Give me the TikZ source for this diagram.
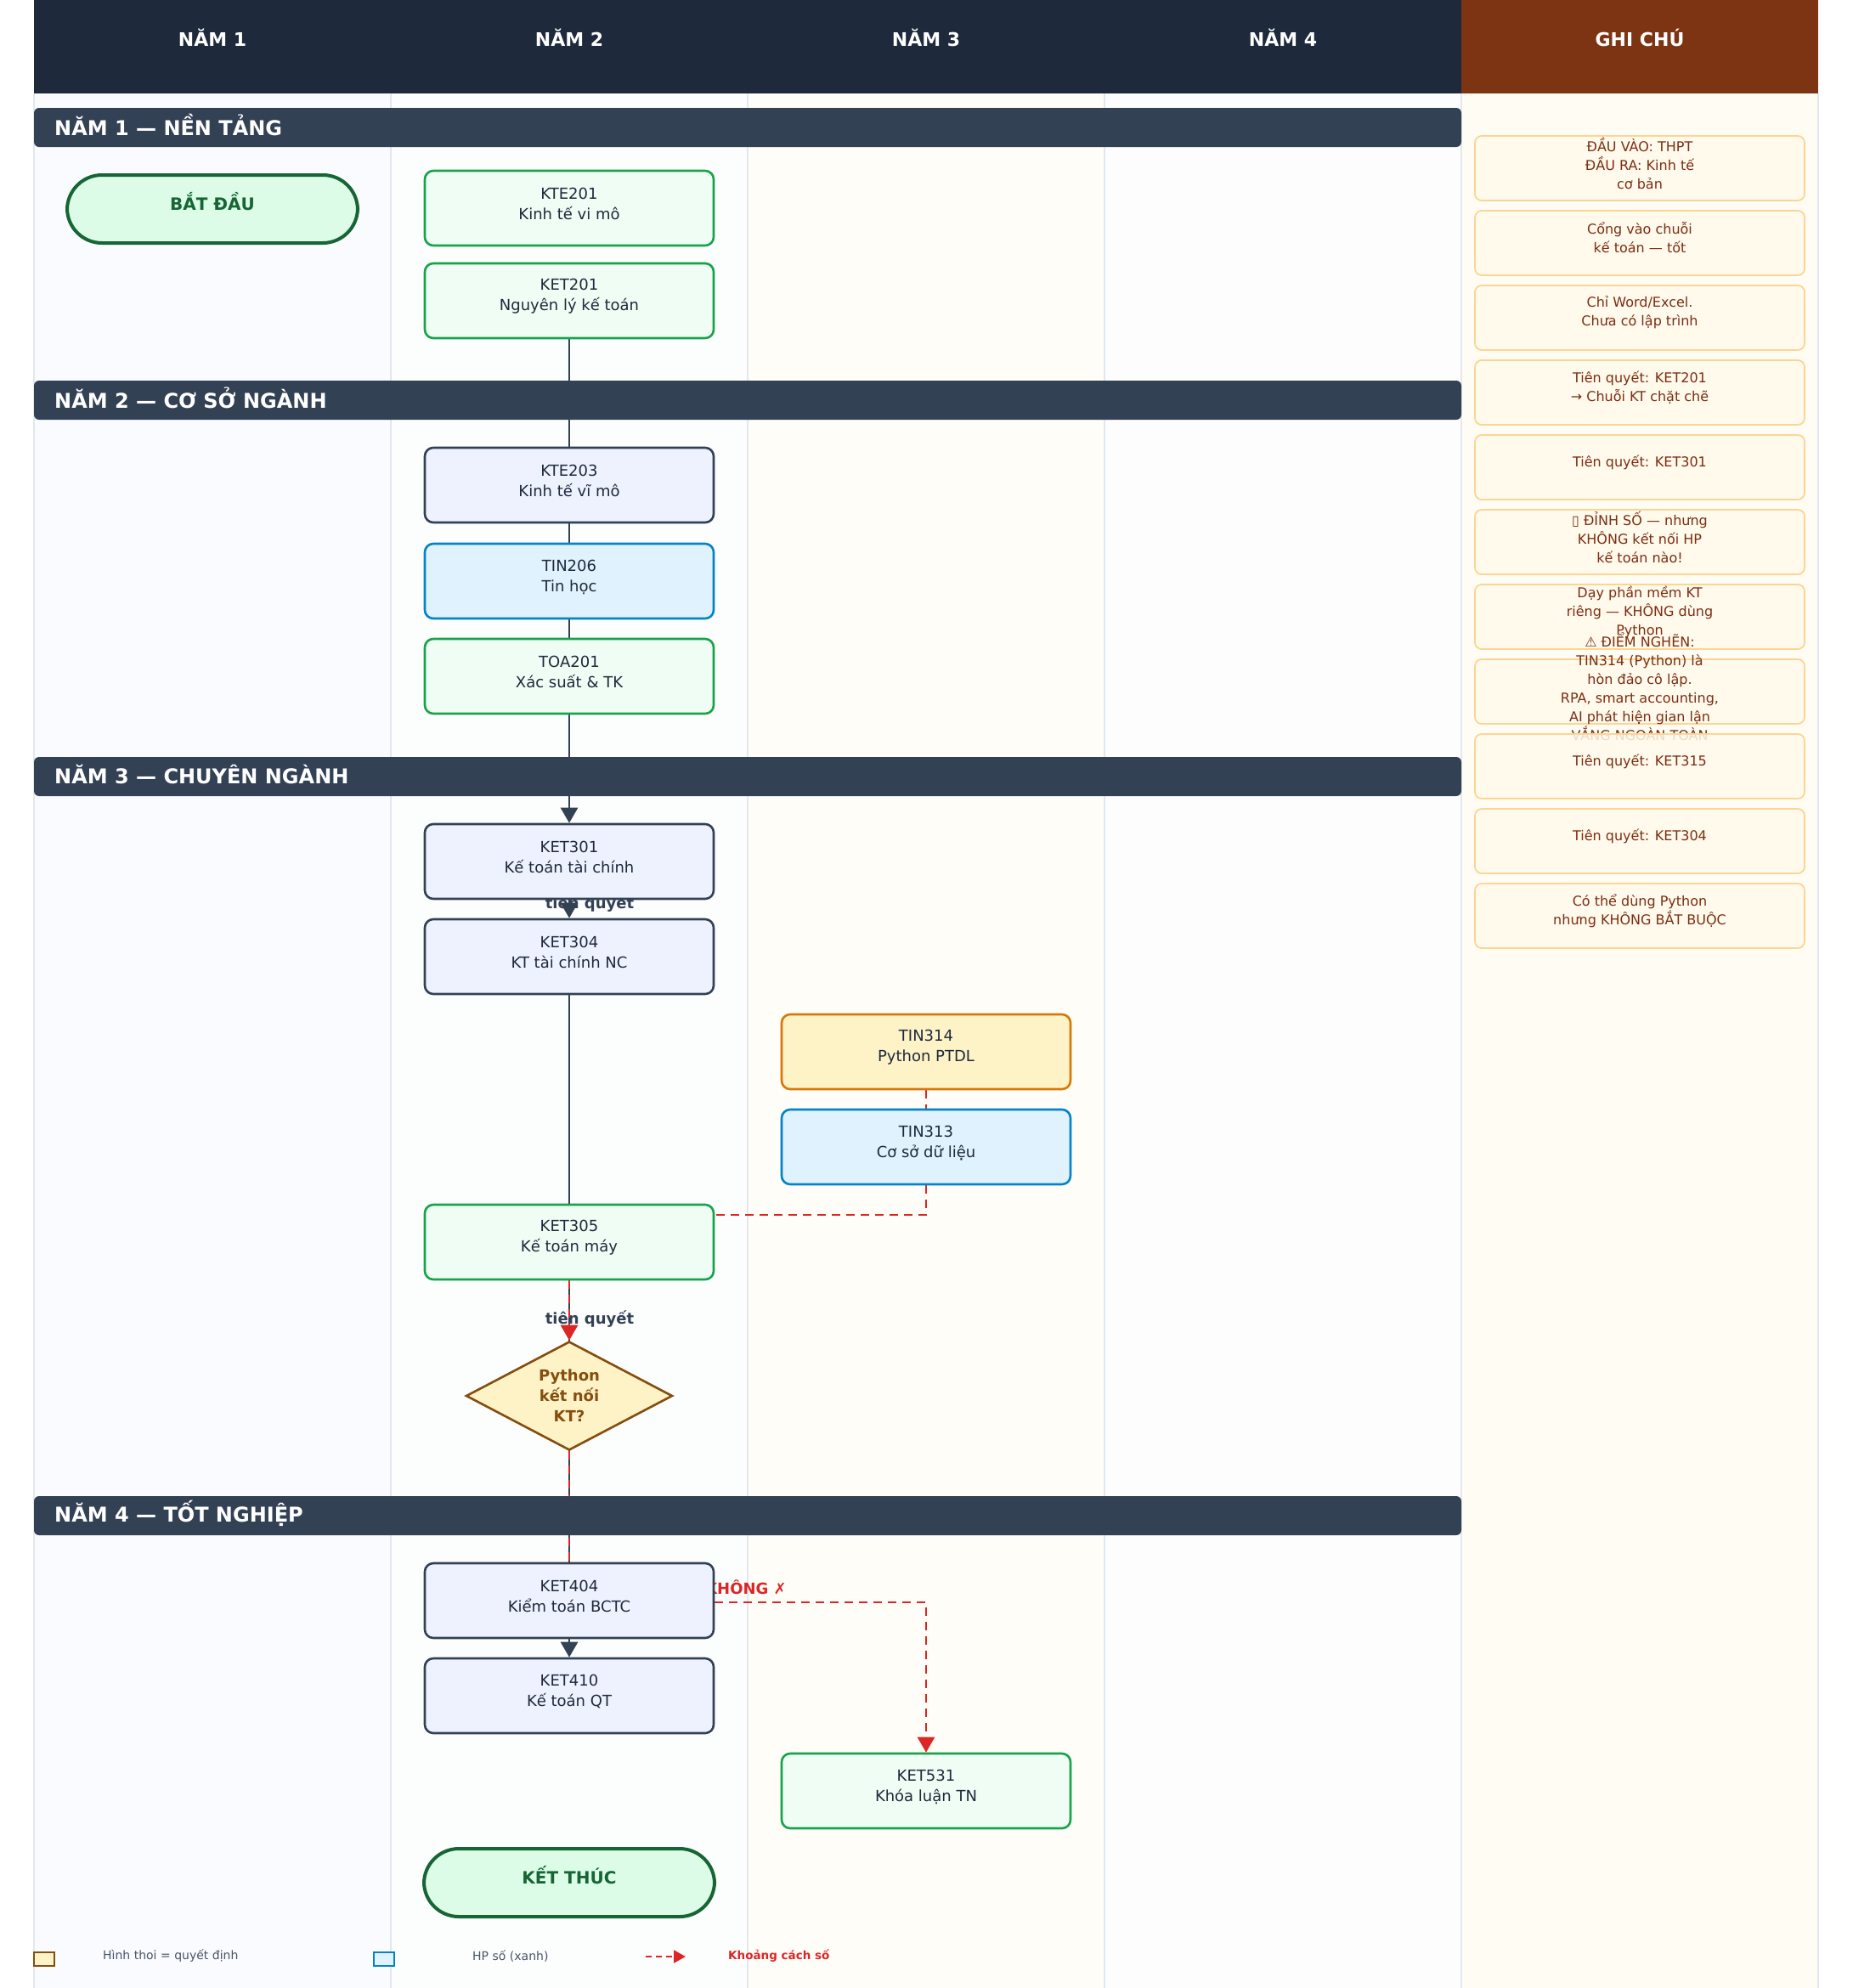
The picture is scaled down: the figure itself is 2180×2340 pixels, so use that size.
\documentclass[tikz,border=0pt]{standalone}
\usepackage{fontspec}
\setmainfont{DejaVu Sans}
\usetikzlibrary{arrows.meta,shapes.geometric}
\pgfdeclarelayer{lanes}
\pgfdeclarelayer{edges}
\pgfdeclarelayer{bars}
\pgfsetlayers{lanes,edges,bars,main}

\definecolor{navy}{HTML}{1E293B}
\definecolor{rust}{HTML}{7C3412}
\definecolor{slate}{HTML}{334155}
\definecolor{ink}{HTML}{1E293B}
\definecolor{grnbd}{HTML}{16A34A}
\definecolor{grnbg}{HTML}{F0FDF4}
\definecolor{indbg}{HTML}{EEF2FF}
\definecolor{skybd}{HTML}{0284C7}
\definecolor{skybg}{HTML}{E0F2FE}
\definecolor{ambbd}{HTML}{D97706}
\definecolor{ambbg}{HTML}{FEF3C7}
\definecolor{brn}{HTML}{854D0E}
\definecolor{termbd}{HTML}{166534}
\definecolor{termbg}{HTML}{DCFCE7}
\definecolor{gapred}{HTML}{DC2626}
\definecolor{notebd}{HTML}{FCD594}
\definecolor{notebg}{HTML}{FFFAEB}
\definecolor{notetx}{HTML}{7C2D12}
\definecolor{sepline}{HTML}{E2E8F0}
\definecolor{legtx}{HTML}{475569}
\definecolor{laneA}{HTML}{FAFBFE}
\definecolor{laneB}{HTML}{FCFDFD}
\definecolor{laneC}{HTML}{FFFDF8}
\definecolor{laneD}{HTML}{FEFDFD}
\definecolor{laneN}{HTML}{FFFCF3}

% a course box with its code and title
\newcommand\course[5]{%
  \node[#2] (#1) at (#3) {};
  \node[ctext] (#1-t) at ([yshift=5pt]#1.center) {#4\\#5};
}
% a note card in the right-hand column
\newcommand\notecard[3]{%
  \node[notebox] (#1) at (1930,#2) {};
  \node[ntext] (#1-t) at ([yshift=6pt]#1.center) {#3};
}

\begin{document}
\begin{tikzpicture}[x=1pt,y=-1pt,
  box/.style={rectangle, rounded corners=10pt, line width=2.6pt,
    minimum width=340pt, minimum height=88pt, inner sep=0pt},
  grn/.style={box, draw=grnbd, fill=grnbg},
  sla/.style={box, draw=slate, fill=indbg},
  blu/.style={box, draw=skybd, fill=skybg},
  org/.style={box, draw=ambbd, fill=ambbg},
  ctext/.style={align=center, text=ink, inner sep=0pt,
    font=\fontsize{18pt}{24pt}\selectfont},
  term/.style={rectangle, rounded corners=41pt, draw=termbd, fill=termbg,
    line width=4pt, minimum width=342pt, minimum height=80pt, inner sep=0pt},
  termtext/.style={text=termbd, inner sep=0pt,
    font=\bfseries\fontsize{20pt}{24pt}\selectfont},
  dec/.style={diamond, draw=brn, fill=ambbg, line width=2.6pt,
    minimum width=243pt, minimum height=128pt, inner sep=0pt},
  dtext/.style={align=center, text=brn, inner sep=0pt,
    font=\bfseries\fontsize{18pt}{24pt}\selectfont},
  phasebar/.style={rectangle, rounded corners=6pt, fill=slate,
    minimum width=1680pt, minimum height=46pt, inner sep=0pt},
  phasetext/.style={anchor=west, text=white, inner sep=0pt,
    font=\bfseries\fontsize{24pt}{28pt}\selectfont},
  headtext/.style={text=white, inner sep=0pt,
    font=\bfseries\fontsize{22pt}{26pt}\selectfont},
  notebox/.style={rectangle, rounded corners=8pt, draw=notebd, fill=notebg,
    fill opacity=0.85, line width=1.8pt, minimum width=388pt,
    minimum height=76pt, inner sep=0pt},
  ntext/.style={align=center, text=notetx, inner sep=0pt,
    font=\fontsize{16pt}{22pt}\selectfont},
  tip/.style={-{Triangle[width=20pt,length=18pt]}},
  flow/.style={draw=slate, line width=2.8pt, tip},
  plain/.style={draw=slate, line width=2.8pt},
  gap/.style={draw=gapred, line width=2.8pt, dash pattern=on 10pt off 7pt},
  elabel/.style={text=slate, inner sep=0pt,
    font=\bfseries\fontsize{18pt}{22pt}\selectfont},
  nolabel/.style={text=gapred, inner sep=0pt,
    font=\bfseries\fontsize{18pt}{22pt}\selectfont},
  legtxt/.style={anchor=west, text=legtx, inner sep=0pt,
    font=\fontsize{14pt}{16pt}\selectfont},
  legbold/.style={anchor=west, text=gapred, inner sep=0pt,
    font=\bfseries\fontsize{13.5pt}{16pt}\selectfont},
]
\useasboundingbox (0,0) rectangle (2180,2340);

% ---------- swimlanes and header ----------
\begin{pgfonlayer}{lanes}
  \fill[white] (0,0) rectangle (2180,2340);
  \fill[laneA] (40,110) rectangle (460,2340);
  \fill[laneB] (460,110) rectangle (880,2340);
  \fill[laneC] (880,110) rectangle (1300,2340);
  \fill[laneD] (1300,110) rectangle (1720,2340);
  \fill[laneN] (1720,110) rectangle (2140,2340);
  \foreach \x in {40,460,880,1300,1720,2140}
    \draw[sepline, line width=1.5pt] (\x,110) -- (\x,2340);
  \fill[navy] (40,0) rectangle (1720,110);
  \fill[rust] (1720,0) rectangle (2140,110);
\end{pgfonlayer}

\node[headtext] (h1) at (250,44) {NĂM 1};
\node[headtext] (h2) at (670,44) {NĂM 2};
\node[headtext] (h3) at (1090,44) {NĂM 3};
\node[headtext] (h4) at (1510,44) {NĂM 4};
\node[headtext] (h5) at (1930,44) {GHI CHÚ};

% ---------- year bands ----------
\begin{pgfonlayer}{bars}
  \node[phasebar] (ph1) at (880,150) {};
  \node[phasetext] (ph1-t) at (64,147) {NĂM 1 — NỀN TẢNG};
  \node[phasebar] (ph2) at (880,471) {};
  \node[phasetext] (ph2-t) at (64,468) {NĂM 2 — CƠ SỞ NGÀNH};
  \node[phasebar] (ph3) at (880,914) {};
  \node[phasetext] (ph3-t) at (64,911) {NĂM 3 — CHUYÊN NGÀNH};
  \node[phasebar] (ph4) at (880,1784) {};
  \node[phasetext] (ph4-t) at (64,1781) {NĂM 4 — TỐT NGHIỆP};
\end{pgfonlayer}

% ---------- courses ----------
\node[term] (start) at (250,246) {};
\node[termtext] (start-t) at ([yshift=9pt]start.center) {BẮT ĐẦU};

\course{kte201}{grn}{670,245}{KTE201}{Kinh tế vi mô}
\course{ket201}{grn}{670,354}{KET201}{Nguyên lý kế toán}
\course{kte203}{sla}{670,571}{KTE203}{Kinh tế vĩ mô}
\course{tin206}{blu}{670,684}{TIN206}{Tin học}
\course{toa201}{grn}{670,796}{TOA201}{Xác suất \& TK}
\course{ket301}{sla}{670,1014}{KET301}{Kế toán tài chính}
\course{ket304}{sla}{670,1126}{KET304}{KT tài chính NC}
\course{tin314}{org}{1090,1238}{TIN314}{Python PTDL}
\course{tin313}{blu}{1090,1350}{TIN313}{Cơ sở dữ liệu}
\course{ket305}{grn}{670,1462}{KET305}{Kế toán máy}

\node[dec] (dec) at (670,1643) {};
\node[dtext] (dec-t) at (dec.center) {Python\\kết nối\\KT?};

\course{ket404}{sla}{670,1884}{KET404}{Kiểm toán BCTC}
\course{ket410}{sla}{670,1996}{KET410}{Kế toán QT}
\course{ket531}{grn}{1090,2108}{KET531}{Khóa luận TN}

\node[term] (end) at (670,2216) {};
\node[termtext] (end-t) at ([yshift=9pt]end.center) {KẾT THÚC};

% ---------- connectors ----------
\begin{pgfonlayer}{edges}
  \node[elabel] (lbl1) at (694,1064) {tiên quyết};
  \node[elabel] (lbl2) at (694,1553) {tiên quyết};
  \node[nolabel] (lbl3) at (878,1868) {KHÔNG {\mdseries ✗}};
  \draw[flow] (ket201.south) -- (ket301.north);
  \draw[flow] (ket301.south) -- (ket304.north);
  \draw[plain] (ket304.south) -- (ket404.north);
  \draw[gap] (tin314.south) -- (tin313.north);
  \draw[gap] (tin313.south) |- ([yshift=32pt]ket305.east);
  \draw[gap, tip] (ket305.south) -- (dec.north);
  \draw[gap] (dec.south) -- (ket404.north);
  \draw[gap, tip] ([yshift=-2pt]ket404.east) -| (ket531.north);
  \draw[flow] (ket404.south) -- (ket410.north);
\end{pgfonlayer}

% ---------- notes column ----------
\notecard{n1}{198}{ĐẦU VÀO: THPT\\ĐẦU RA: Kinh tế\\cơ bản}
\notecard{n2}{286}{Cổng vào chuỗi\\kế toán — tốt}
\notecard{n3}{374}{Chỉ Word/Excel.\\Chưa có lập trình}
\notecard{n4}{462}{Tiên quyết: KET201\\→ Chuỗi KT chặt chẽ}
\notecard{n5}{550}{Tiên quyết: KET301}
\notecard{n6}{638}{▯ ĐỈNH SỐ — nhưng\\KHÔNG kết nối HP\\kế toán nào!}
\notecard{n7}{726}{Dạy phần mềm KT\\riêng — KHÔNG dùng\\Python}
\notecard{n8}{814}{⚠ ĐIỂM NGHẼN:\\TIN314 (Python) là\\hòn đảo cô lập.\\RPA, smart accounting,\\AI phát hiện gian lận\\VẮNG NGOÀN TOÀN}
\notecard{n9}{902}{Tiên quyết: KET315}
\notecard{n10}{990}{Tiên quyết: KET304}
\notecard{n11}{1078}{Có thể dùng Python\\nhưng KHÔNG BẮT BUỘC}

% ---------- legend ----------
\node[draw=brn, fill=ambbg, line width=2.4pt, minimum width=24pt,
  minimum height=16pt, inner sep=0pt] (lg1) at (52,2306) {};
\node[legtxt] (lg1-t) at (121,2302) {Hình thoi = quyết định};
\node[draw=skybd, fill=skybg, line width=2.4pt, minimum width=24pt,
  minimum height=16pt, inner sep=0pt] (lg2) at (452,2306) {};
\node[legtxt] (lg2-t) at (556,2302) {HP số (xanh)};
\coordinate (lg3a) at (760,2303);
\coordinate (lg3b) at (807,2303);
\draw[draw=gapred, line width=2.5pt, dash pattern=on 7pt off 5pt,
  -{Triangle[width=15pt,length=14pt]}] (lg3a) -- (lg3b);
\node[legbold] (lg3-t) at (857,2302) {Khoảng cách số};
\end{tikzpicture}
\end{document}
